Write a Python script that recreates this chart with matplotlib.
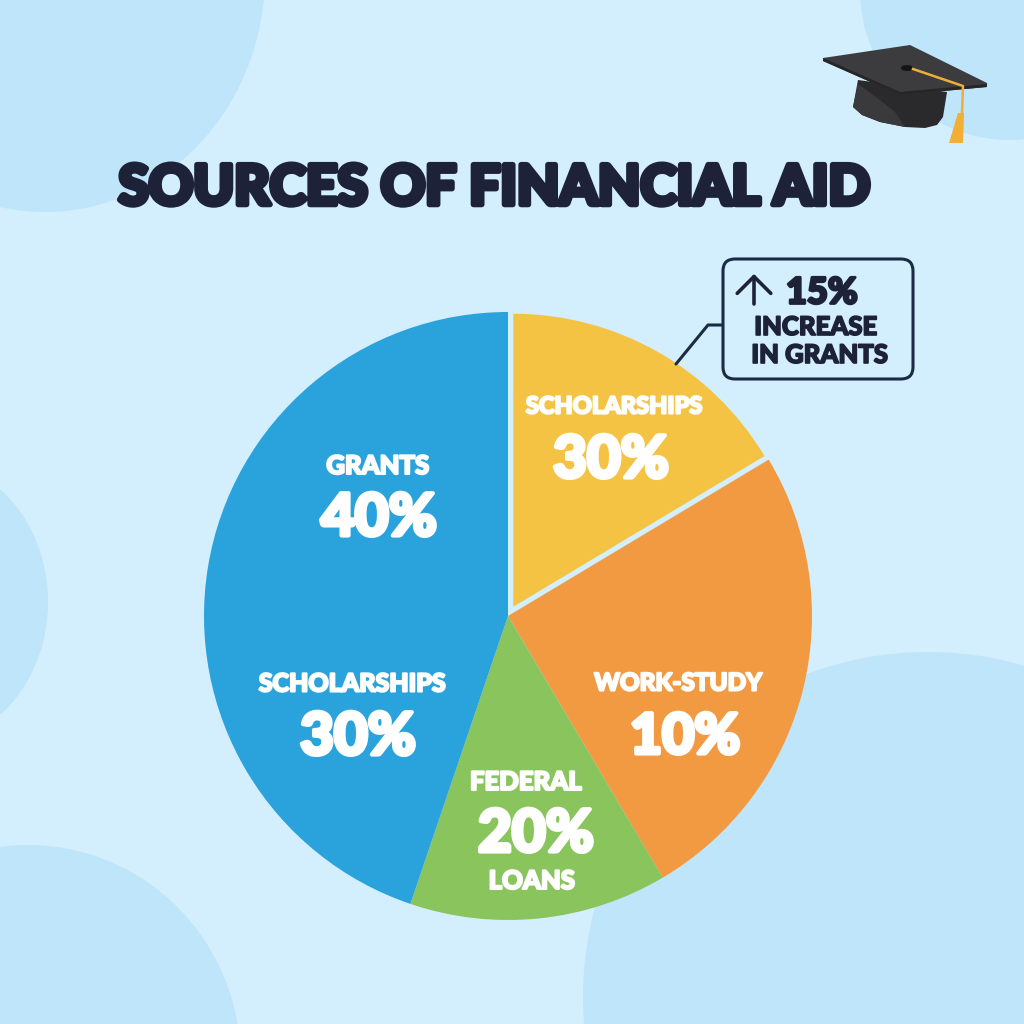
import matplotlib
matplotlib.use('Agg')
from matplotlib import pyplot as plt
from matplotlib.patches import Ellipse, FancyBboxPatch, Polygon
import matplotlib.patheffects as pe

# Slice sizes (percent of the circle).
# The printed percentages below do not match the slice sizes in the original,
# so both are kept: one for the geometry, one for the labels.
slice_names = ['Scholarships', 'Work-Study', 'Federal Loans', 'Grants + Scholarships']
slice_shares = [16.4, 25.1, 13.7, 44.8]
slice_colors = ['#F5C344', '#F29A42', '#89C45D', '#2AA3DC']
slice_explode = [0.035, 0, 0, 0]

# Text printed on the pie
label_names = ['SCHOLARSHIPS', 'GRANTS', 'SCHOLARSHIPS', 'WORK-STUDY', 'FEDERAL']
label_values = [30, 40, 30, 10, 20]
title_text = 'SOURCES OF FINANCIAL AID'
callout_value = 15
callout_lines = ['INCREASE', 'IN GRANTS']

BG = '#D3EEFC'
BLOB = '#BEE5F9'
NAVY = '#1E2238'
LINE = '#1B2A45'

fig = plt.figure(figsize=(10.24, 10.24), dpi=100, facecolor=BG)

# Background layer in pixel coordinates
bg = fig.add_axes([0, 0, 1, 1], zorder=0)
bg.set_xlim(0, 1024)
bg.set_ylim(1024, 0)
bg.axis('off')
for cx, cy, w, h in [(45, -25, 440, 474), (-75, 602, 246, 285), (28, 1060, 425, 430),
                     (928, 997, 690, 690), (1010, -10, 300, 300)]:
    bg.add_patch(Ellipse((cx, cy), w, h, color=BLOB, lw=0))

# Pie: centre (508, 616), radius 304 px, axes padded by 10 %
R = 304 * 1.1
pie_ax = fig.add_axes([(508 - R) / 1024, (1024 - 616 - R) / 1024, 2 * R / 1024, 2 * R / 1024], zorder=1)
wedges, _ = pie_ax.pie(slice_shares, colors=slice_colors, startangle=90, counterclock=False,
                       explode=slice_explode, radius=1)
# yellow slice is pulled out but also a bit smaller, so it stays inside the circle
wedges[0].set_radius(293 / 304)
pie_ax.set_xlim(-1.1, 1.1)
pie_ax.set_ylim(-1.1, 1.1)
pie_ax.axis('off')

# Overlay in pixel coordinates for texts and decorations
ax = fig.add_axes([0, 0, 1, 1], zorder=2)
ax.set_xlim(0, 1024)
ax.set_ylim(1024, 0)
ax.axis('off')


def put(x, y, s, size, color='white', stroke=2.5, family='Lato'):
    t = ax.text(x, y, s, fontsize=size, color=color, ha='center', va='center_baseline',
                family=family, fontweight='black')
    t.set_path_effects([pe.withStroke(linewidth=stroke, foreground=color, joinstyle='round')])
    return t


put(494, 184, title_text, 39.5, NAVY, stroke=4)

# Slice labels
name_pos = [(614, 404), (378, 464), (352, 682), (678, 681), (526, 780)]
name_size = [17, 18.5, 18, 17.5, 18.5]
pct_pos = [(611, 456), (379, 514), (358, 733), (685, 733), (536, 830)]
pct_size = [42, 42, 42, 40, 42]
for name, (nx, ny), ns, value, (px, py), ps in zip(label_names, name_pos, name_size,
                                                   label_values, pct_pos, pct_size):
    put(nx, ny, name, ns, stroke=1.5)
    put(px, py, f'{value}%', ps, stroke=3)
put(532, 879, 'LOANS', 18.5, stroke=1.5)

# Callout box with leader line
ax.add_patch(FancyBboxPatch((735, 271), 166, 96, boxstyle='round,pad=12,rounding_size=12',
                            fc=BG, ec=LINE, lw=2.2))
ax.plot([722, 708, 676], [325, 325, 364], color=LINE, lw=2.2, solid_capstyle='round')
ax.annotate('', xy=(754, 274), xytext=(754, 304),
            arrowprops=dict(arrowstyle='->,head_width=0.55,head_length=0.55', mutation_scale=22,
                            color=NAVY, lw=2.6, shrinkA=0, shrinkB=0))
put(822, 290, f'{callout_value}%', 26, NAVY, stroke=2)
put(816, 325, callout_lines[0], 18.5, NAVY, stroke=1.2)
put(820, 353, callout_lines[1], 18.5, NAVY, stroke=1.2)

# Graduation cap
ax.add_patch(Polygon([(858, 80), (853, 107), (862, 115), (880, 122), (905, 127), (925, 128),
                      (937, 125), (943, 117), (947, 92)], closed=True, fc='#2A2A2C', lw=0))
ax.add_patch(Polygon([(858, 84), (853, 107), (862, 115), (880, 122), (905, 127), (895, 112), (880, 100)],
                     closed=True, fc='#3A3A3C', lw=0))
ax.add_patch(Polygon([(823, 58), (910, 45), (987, 83), (987, 87), (900, 95), (823, 61)],
                     closed=True, fc='#3C3C3E', lw=0))
ax.add_patch(Polygon([(823, 61), (900, 95), (987, 87), (987, 84), (900, 92), (823, 58)],
                     closed=True, fc='#262628', lw=0))
ax.plot([913, 963, 962], [69, 86, 113], color='#EFAE3A', lw=1.8, solid_joinstyle='round')
ax.add_patch(Polygon([(958, 113), (964, 113), (963, 143), (949, 143)], closed=True, fc='#F2AE35', lw=0))
ax.add_patch(Ellipse((907, 68), 12, 6, fc='#141416', lw=0))

fig.savefig('out.png', dpi=100, facecolor=BG)
